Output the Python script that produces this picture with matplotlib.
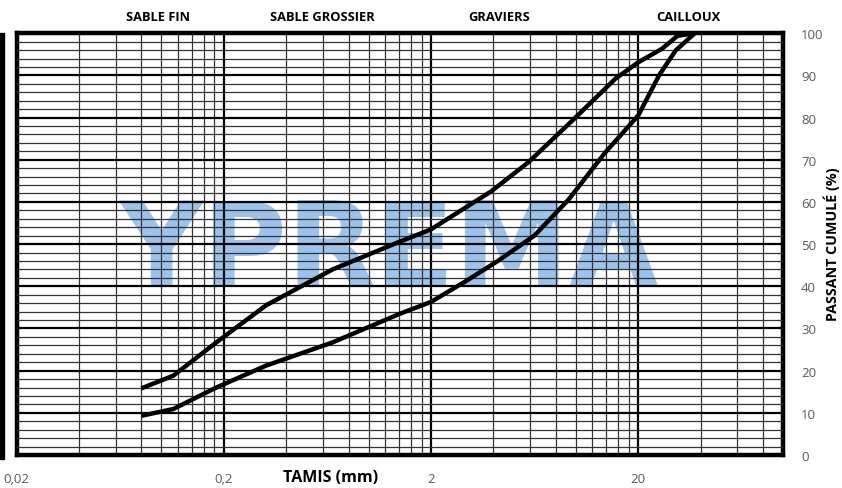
import numpy as np
import matplotlib.pyplot as plt
from matplotlib.ticker import FixedLocator, NullFormatter
from matplotlib.patches import Rectangle

# courbes (tamis en mm, passant cumule en %)
tamis_sup = [0.08, 0.114, 0.184, 0.32, 0.67, 1.4, 2.0, 3.9, 5.9, 10, 15.5, 20, 26, 31, 37.5]
passant_sup = [15.8, 18.8, 26.7, 35.5, 44.0, 50.5, 53.5, 62.5, 69.4, 80.1, 89.2, 93.1, 96.3, 99.4, 100]

tamis_inf = [0.08, 0.114, 0.184, 0.32, 0.67, 1.4, 2.0, 2.94, 4.2, 6.3, 9.2, 13.9, 20, 25.2, 30.3, 37.5]
passant_inf = [9.3, 10.9, 16.0, 21.2, 26.7, 33.4, 36.3, 41.2, 46.0, 52.0, 60.5, 71.8, 80.5, 90.0, 95.9, 100]

x_ticks = [0.02, 0.2, 2, 20]
x_labels = ['0,02', '0,2', '2', '20']
y_ticks = list(range(0, 101, 10))

zones = ['SABLE FIN', 'SABLE GROSSIER', 'GRAVIERS', 'CAILLOUX']
zones_x = [0.096, 0.6, 4.26, 35]

plt.rcParams['font.family'] = ['Open Sans', 'DejaVu Sans']

fig = plt.figure(figsize=(8.42, 4.89), dpi=100)
ax = fig.add_axes([0.0198, 0.0675, 0.9102, 0.8625])

ax.set_xscale('log')
ax.set_xlim(0.02, 100)
ax.set_ylim(0, 100)

# grille
minor_x = [0.02 * k * 10**d for d in range(4) for k in range(2, 10)]
ax.xaxis.set_major_locator(FixedLocator(x_ticks))
ax.xaxis.set_minor_locator(FixedLocator(minor_x))
ax.xaxis.set_minor_formatter(NullFormatter())
ax.yaxis.set_major_locator(FixedLocator(y_ticks))
ax.yaxis.set_minor_locator(FixedLocator(list(range(0, 101, 2))))
ax.set_axisbelow(False)
ax.grid(which='major', color='black', lw=1.6)
ax.grid(which='minor', color='#333333', lw=0.9)

ax.set_xticks(x_ticks)
ax.set_xticklabels(x_labels)
ax.tick_params(which='both', length=0)
ax.tick_params(axis='x', labelsize=9.5, labelcolor='#595959', pad=12)
ax.yaxis.tick_right()
ax.tick_params(axis='y', labelsize=9.5, labelcolor='#595959', pad=13)

for s in ax.spines.values():
    s.set_linewidth(3.2)
    s.set_color('black')

# filigrane
ax.text(1.25, 48.3, 'YPREMA', color='#9cc3ec', fontsize=83, fontweight='heavy',
        ha='center', va='center', zorder=0.5, family='DejaVu Sans')

ax.plot(tamis_sup, passant_sup, color='black', lw=3.2, zorder=3, solid_capstyle='butt')
ax.plot(tamis_inf, passant_inf, color='black', lw=3.2, zorder=3, solid_capstyle='butt')

for z, zx in zip(zones, zones_x):
    ax.text(zx, 1.04, z, transform=ax.get_xaxis_transform(), ha='center', va='center',
            fontsize=9.3, fontweight='bold')

fig.text(0.392, 0.022, 'TAMIS (mm)', fontsize=11.5, fontweight='bold', ha='center', va='center')
fig.text(0.988, 0.5, 'PASSANT CUMULÉ (%)', fontsize=10.3, fontweight='bold',
         ha='center', va='center', rotation=90)

# barre noire a gauche
fig.patches.append(Rectangle((0, 0.06), 0.0045, 0.87, transform=fig.transFigure,
                             color='black', zorder=5))

fig.savefig('out.png', dpi=100)
